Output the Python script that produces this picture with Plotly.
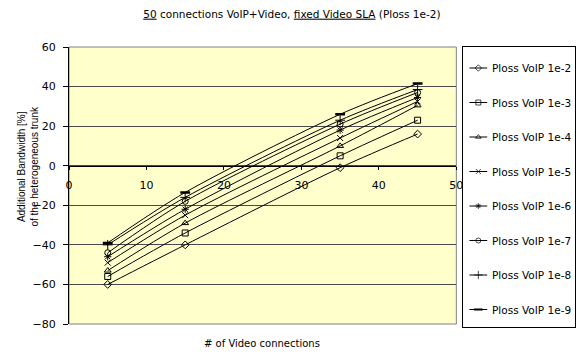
import plotly.graph_objects as go

# Number of video connections sampled
video_connections = [5, 15, 35, 45]

# Additional bandwidth [%] for each VoIP loss target
series_names = [
    "Ploss VoIP 1e-2", "Ploss VoIP 1e-3", "Ploss VoIP 1e-4", "Ploss VoIP 1e-5",
    "Ploss VoIP 1e-6", "Ploss VoIP 1e-7", "Ploss VoIP 1e-8", "Ploss VoIP 1e-9",
]
ploss_1e2 = [-60, -40, -1, 16]
ploss_1e3 = [-56, -34, 5, 23]
ploss_1e4 = [-53, -29, 10, 30.5]
ploss_1e5 = [-49, -25, 14, 32.5]
ploss_1e6 = [-46, -22, 18, 34.5]
ploss_1e7 = [-44, -18, 21, 37]
ploss_1e8 = [-40, -16, 23, 38.5]
ploss_1e9 = [-39, -13.5, 26, 41.5]
series_values = [ploss_1e2, ploss_1e3, ploss_1e4, ploss_1e5,
                 ploss_1e6, ploss_1e7, ploss_1e8, ploss_1e9]

marker_symbols = [
    "diamond-open", "square-open", "triangle-up-open", "x-thin-open",
    "asterisk-open", "circle-open", "cross-thin-open", "line-ew-open",
]
marker_sizes = [6, 6, 6, 6, 6, 6, 7, 7]
marker_widths = [1, 1, 1, 1, 1, 1, 1, 2.5]

y_ticks = [-80, -60, -40, -20, 0, 20, 40, 60]
x_ticks = [0, 10, 20, 30, 40, 50]

WIDE = "DejaVu Sans, Verdana, sans-serif"
ARIAL = "Liberation Sans, Arial, sans-serif"

W, H = 587, 352
L, R, T, B = 69, 5, 47, 25
PW, PH = W - L - R, H - T - B           # paper area in px
PLOT_RIGHT, PLOT_BOTTOM = 461.7, 324    # main plot area edges in px
LEG_LEFT = 468

def px_x(px):
    return (px - L) / PW

def px_y(py):
    return (H - B - py) / PH

fig = go.Figure()

# Data series
for i, (name, vals) in enumerate(zip(series_names, series_values)):
    fig.add_trace(go.Scatter(
        x=video_connections, y=vals, name=name, mode="lines+markers",
        showlegend=False, xaxis="x", yaxis="y",
        line=dict(color="black", width=1, shape="spline", smoothing=0.8),
        marker=dict(symbol=marker_symbols[i], size=marker_sizes[i],
                    color="black", line=dict(color="black", width=marker_widths[i])),
    ))

# Legend box drawn on its own pixel-scaled axes
leg_y0, leg_step = 68, 34.5
for i, name in enumerate(series_names):
    yy = leg_y0 + leg_step * i
    fig.add_trace(go.Scatter(
        x=[475, 484, 493], y=[yy, yy, yy], mode="lines+markers",
        showlegend=False, xaxis="x2", yaxis="y2", hoverinfo="skip",
        line=dict(color="black", width=1),
        marker=dict(symbol=marker_symbols[i],
                    size=[0, marker_sizes[i] - 1, 0],
                    color="black", line=dict(color="black", width=marker_widths[i])),
    ))
    fig.add_annotation(
        text=name, xref="x2", yref="y2", x=496, y=yy,
        xanchor="left", yanchor="middle", showarrow=False,
        font=dict(family=WIDE, size=10.5, color="black"),
    )

fig.update_layout(
    width=W, height=H,
    margin=dict(l=L, r=R, t=T, b=B, pad=0),
    paper_bgcolor="white",
    plot_bgcolor="white",
    font=dict(family=WIDE, size=10, color="black"),
    showlegend=False,
    xaxis=dict(
        domain=[0, px_x(PLOT_RIGHT)],
        range=[0, 50], tickvals=x_ticks,
        anchor="free", position=px_y(166),
        showline=True, linecolor="black", linewidth=1,
        ticks="outside", ticklen=3, tickcolor="black",
        ticklabelstandoff=6,
        showgrid=False, zeroline=False,
        tickfont=dict(family=WIDE, size=11, color="black"),
    ),
    yaxis=dict(
        domain=[px_y(PLOT_BOTTOM), 1],
        range=[-80, 60], tickvals=y_ticks,
        showline=True, linecolor="black", linewidth=1,
        ticks="outside", ticklen=5, tickcolor="black",
        showgrid=True, gridcolor="#4a4a4a", gridwidth=1,
        zeroline=False,
        tickfont=dict(family=WIDE, size=11, color="black"),
        ticklabelstandoff=5,
    ),
    xaxis2=dict(
        domain=[px_x(LEG_LEFT), 1], range=[LEG_LEFT, W - R],
        anchor="y2", showline=True, mirror=True, linecolor="black",
        linewidth=1, showgrid=False, zeroline=False,
        showticklabels=False, ticks="", fixedrange=True,
    ),
    yaxis2=dict(
        domain=[0, 1], range=[H - B, T],
        anchor="x2", showline=True, mirror=True, linecolor="black",
        linewidth=1, showgrid=False, zeroline=False,
        showticklabels=False, ticks="", fixedrange=True,
    ),
    title=dict(
        text="<u>50</u> connections VoIP+Video, <u>fixed Video SLA</u> (Ploss 1e-2)",
        x=(295 - L) / PW, xref="paper", xanchor="center",
        y=1 - 14 / H, yref="container", yanchor="middle",
        font=dict(family=WIDE, size=10.5, color="black"),
    ),
)

# Plot area fill and gray border
fig.add_shape(type="rect", xref="x domain", yref="y domain", x0=0, x1=1, y0=0, y1=1,
              line=dict(color="#808080", width=1), fillcolor="#FFFFCC", layer="below")

# Axis titles
fig.add_annotation(
    text="Additional Bandwidth [%]<br>of the heterogeneous trunk",
    xref="paper", yref="paper", x=px_x(27), y=px_y(166),
    textangle=-90, showarrow=False, xanchor="center", yanchor="middle",
    font=dict(family=ARIAL, size=10, color="black"),
)
fig.add_annotation(
    text="# of Video connections",
    xref="paper", yref="paper", x=px_x(265), y=px_y(343),
    showarrow=False, xanchor="center", yanchor="middle",
    font=dict(family=WIDE, size=10, color="black"),
)

fig.write_html("out.html")
